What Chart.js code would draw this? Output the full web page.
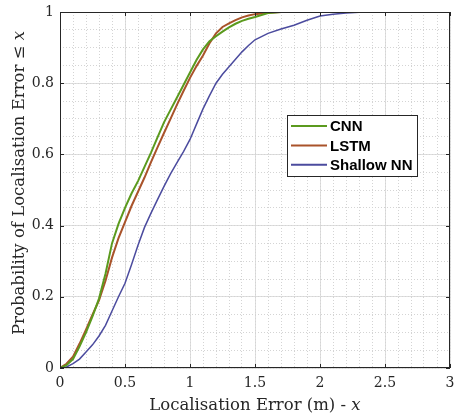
<!DOCTYPE html>
<html>
<head>
<meta charset="utf-8">
<script src="https://cdn.jsdelivr.net/npm/chart.js@4.4.1/dist/chart.umd.min.js"></script>
<style>
  html, body { margin: 0; padding: 0; background: #fff; }
  #wrap { width: 455px; height: 419px; }
</style>
</head>
<body>
<div id="wrap"><canvas id="cdfChart" width="455" height="419"></canvas></div>
<script>
// valeurs (erreur en m, probabilité cumulée)
const errorValues = [0, 0.05, 0.1, 0.15, 0.2, 0.25, 0.3, 0.35, 0.4, 0.45, 0.5, 0.55, 0.6, 0.65, 0.7, 0.75, 0.8, 0.85, 0.9, 0.95,
	1.0, 1.05, 1.1, 1.15, 1.2, 1.25, 1.3, 1.35, 1.4, 1.45, 1.5, 1.6, 1.7, 1.8, 1.9, 2.0, 2.1, 2.2, 2.3, 2.4, 2.5, 3.0];
const cnnValues = [0, 0.008, 0.025, 0.06, 0.10, 0.145, 0.195, 0.265, 0.35, 0.405, 0.45, 0.49, 0.525, 0.565, 0.605, 0.648, 0.69, 0.725, 0.76, 0.795,
	0.83, 0.865, 0.895, 0.918, 0.932, 0.945, 0.957, 0.967, 0.975, 0.981, 0.986, 0.997, 1, null, null, null, null, null, null, null, null, null];
const lstmValues = [0, 0.012, 0.032, 0.068, 0.108, 0.15, 0.19, 0.245, 0.31, 0.365, 0.41, 0.455, 0.495, 0.535, 0.578, 0.62, 0.66, 0.70, 0.74, 0.778,
	0.815, 0.848, 0.878, 0.912, 0.94, 0.958, 0.968, 0.977, 0.985, 0.99, 0.994, 0.998, 1, 1, 1, 1, 1, 1, 1, null, null, null];
const shallowValues = [0, 0.003, 0.012, 0.025, 0.045, 0.065, 0.09, 0.12, 0.16, 0.2, 0.238, 0.29, 0.345, 0.395, 0.435, 0.473, 0.51, 0.545, 0.577, 0.608,
	0.642, 0.685, 0.728, 0.765, 0.8, 0.825, 0.846, 0.867, 0.888, 0.906, 0.922, 0.94, 0.952, 0.963, 0.977, 0.989, 0.994, 0.997, 0.999, 1, 1, 1];
const seriesLabels = ['CNN', 'LSTM', 'Shallow NN'];
const xTicks = [0, 0.5, 1, 1.5, 2, 2.5, 3];
const yTicks = [0, 0.2, 0.4, 0.6, 0.8, 1];

const axisColor = '#262626';
const serif = '"DejaVu Serif", "Liberation Serif", serif';

function toPoints(values) {
	return errorValues.map((x, i) => ({ x: x, y: values[i] })).filter(p => p.y !== null);
}

// cadre, petits traits vers l'intérieur, titres des axes
const framePlugin = {
	id: 'frame',
	afterDatasetsDraw(chart) {
		const ctx = chart.ctx;
		const a = chart.chartArea;
		const xs = chart.scales.x, ys = chart.scales.y;
		ctx.save();
		ctx.strokeStyle = axisColor;
		ctx.lineWidth = 1;
		ctx.strokeRect(Math.round(a.left) + 0.5, Math.round(a.top) + 0.5, Math.round(a.right - a.left) - 1, Math.round(a.bottom - a.top) - 1);
		ctx.beginPath();
		xTicks.forEach(v => {
			const px = Math.round(xs.getPixelForValue(v)) + 0.5;
			ctx.moveTo(px, a.bottom); ctx.lineTo(px, a.bottom - 4);
			ctx.moveTo(px, a.top); ctx.lineTo(px, a.top + 4);
		});
		yTicks.forEach(v => {
			const py = Math.round(ys.getPixelForValue(v)) + 0.5;
			ctx.moveTo(a.left, py); ctx.lineTo(a.left + 4, py);
			ctx.moveTo(a.right, py); ctx.lineTo(a.right - 4, py);
		});
		ctx.stroke();
		ctx.restore();
	},
	afterDraw(chart) {
		const ctx = chart.ctx;
		const a = chart.chartArea;
		const fs = '16.5px ';
		ctx.save();
		ctx.fillStyle = axisColor;
		ctx.textBaseline = 'alphabetic';

		// titre axe x
		const xMain = 'Localisation Error (m) - ';
		ctx.font = fs + serif;
		const w1 = ctx.measureText(xMain).width;
		ctx.font = 'italic ' + fs + serif;
		const w2 = ctx.measureText('x').width;
		let sx = (a.left + a.right) / 2 - (w1 + w2) / 2;
		ctx.font = fs + serif;
		ctx.fillText(xMain, sx, 410);
		ctx.font = 'italic ' + fs + serif;
		ctx.fillText('x', sx + w1, 410);

		// titre axe y
		const yMain = 'Probability of Localisation Error \u2264 ';
		ctx.translate(24, 183);
		ctx.rotate(-Math.PI / 2);
		ctx.font = fs + serif;
		const w3 = ctx.measureText(yMain).width;
		ctx.font = 'italic ' + fs + serif;
		const w4 = ctx.measureText('x').width;
		sx = -(w3 + w4) / 2;
		ctx.font = fs + serif;
		ctx.fillText(yMain, sx, 0);
		ctx.font = 'italic ' + fs + serif;
		ctx.fillText('x', sx + w3, 0);
		ctx.restore();

		// légende
		const box = { x: 287, y: 115, w: 130, h: 61 };
		ctx.save();
		ctx.fillStyle = '#fff';
		ctx.fillRect(box.x, box.y, box.w, box.h);
		ctx.strokeStyle = axisColor;
		ctx.lineWidth = 1;
		ctx.strokeRect(box.x + 0.5, box.y + 0.5, box.w, box.h);
		ctx.font = 'bold 15px "Liberation Sans", Arial, sans-serif';
		ctx.textBaseline = 'middle';
		chart.data.datasets.forEach((ds, i) => {
			const yy = 126 + i * 19.4;
			ctx.strokeStyle = ds.borderColor;
			ctx.lineWidth = 2;
			ctx.beginPath();
			ctx.moveTo(291, yy); ctx.lineTo(327, yy);
			ctx.stroke();
			ctx.fillStyle = '#000';
			ctx.fillText(ds.label, 330, yy + 1);
		});
		ctx.restore();
	}
};

const noPad = s => { s.paddingLeft = 0; s.paddingRight = 0; s.paddingTop = 0; s.paddingBottom = 0; };

const ctx = document.getElementById('cdfChart').getContext('2d');
new Chart(ctx, {
	type: 'line',
	data: {
		datasets: [{
			label: seriesLabels[0],
			data: toPoints(cnnValues),
			borderColor: '#5b9a1e',
			borderWidth: 2,
			pointRadius: 0,
			tension: 0
		}, {
			label: seriesLabels[1],
			data: toPoints(lstmValues),
			borderColor: '#a9532a',
			borderWidth: 2,
			pointRadius: 0,
			tension: 0
		}, {
			label: seriesLabels[2],
			data: toPoints(shallowValues),
			borderColor: '#4b4b9e',
			borderWidth: 1.5,
			pointRadius: 0,
			tension: 0
		}]
	},
	options: {
		responsive: false,
		animation: false,
		layout: { padding: { top: 12, right: 5, left: 0, bottom: 0 } },
		plugins: {
			legend: { display: false },
			tooltip: { enabled: false }
		},
		scales: {
			x: {
				type: 'linear',
				min: 0,
				max: 3,
				afterBuildTicks: s => { s.ticks = xTicks.map(v => ({ value: v })); },
				afterFit: s => { s.height = 51; noPad(s); },
				grid: { color: '#dedede', drawTicks: false },
				border: { display: false },
				ticks: {
					padding: 7,
					color: axisColor,
					font: { family: serif, size: 14 },
					callback: v => String(v)
				}
			},
			y: {
				min: 0,
				max: 1,
				afterBuildTicks: s => { s.ticks = yTicks.map(v => ({ value: v })); },
				afterFit: s => { s.width = 60; noPad(s); },
				grid: { color: '#dedede', drawTicks: false },
				border: { display: false },
				ticks: {
					padding: 6,
					color: axisColor,
					font: { family: serif, size: 14 },
					callback: v => String(Number(v.toFixed(1)))
				}
			},
			xMinor: {
				type: 'linear',
				position: 'bottom',
				min: 0,
				max: 3,
				ticks: { display: false, stepSize: 0.1, autoSkip: false },
				afterFit: s => { s.height = 0; noPad(s); },
				grid: { color: '#d4d4d4', drawTicks: false, lineWidth: 1 },
				border: { display: false, dash: [1, 2] }
			},
			yMinor: {
				position: 'left',
				min: 0,
				max: 1,
				ticks: { display: false, stepSize: 0.05, autoSkip: false },
				afterFit: s => { s.width = 0; noPad(s); },
				grid: { color: '#d4d4d4', drawTicks: false, lineWidth: 1 },
				border: { display: false, dash: [1, 2] }
			}
		}
	},
	plugins: [framePlugin]
});
</script>
</body>
</html>
